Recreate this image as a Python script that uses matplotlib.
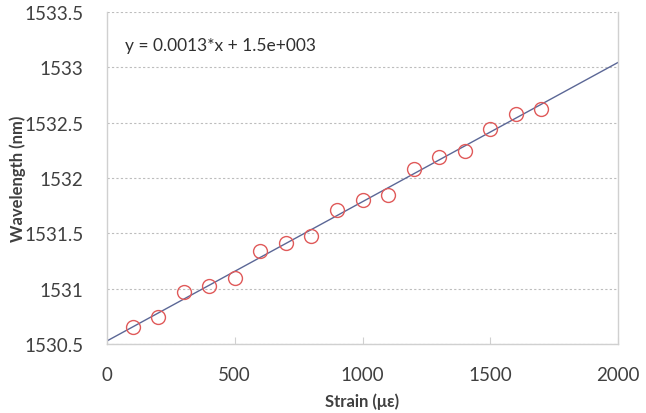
import numpy as np
import matplotlib.pyplot as plt

# Data
strain = np.array([100, 200, 300, 400, 500, 600, 700, 800, 900,
                   1000, 1100, 1200, 1300, 1400, 1500, 1600, 1700])
wavelength = np.array([1530.65, 1530.74, 1530.97, 1531.02, 1531.10, 1531.34,
                       1531.41, 1531.48, 1531.71, 1531.80, 1531.85, 1532.08,
                       1532.19, 1532.24, 1532.44, 1532.58, 1532.62])
x_ticks = [0, 500, 1000, 1500, 2000]
y_ticks = [1530.5, 1531, 1531.5, 1532, 1532.5, 1533, 1533.5]
y_ticklabels = ["1530.5", "1531", "1531.5", "1532", "1532.5", "1533", "1533.5"]

plt.rcParams['font.family'] = ['Lato', 'DejaVu Sans']

fig = plt.figure(figsize=(6.46, 4.14), dpi=100)
ax = fig.add_axes([0.1656, 0.1667, 0.7911, 0.8019])

# linear fit
k, b = np.polyfit(strain, wavelength, 1)
xf = np.array([0, 2000])
ax.plot(xf, k * xf + b, color="#5b6796", lw=1.0, zorder=2)

ax.plot(strain, wavelength, linestyle="none", marker="o", markersize=10,
        markerfacecolor="none", markeredgecolor="#e05a5a", markeredgewidth=1.0,
        zorder=3)

ax.set_xlim(0, 2000)
ax.set_ylim(1530.5, 1533.5)
ax.set_xticks(x_ticks)
ax.set_yticks(y_ticks)
ax.set_yticklabels(y_ticklabels)

ax.grid(axis="y", color="#bdbdbd", linestyle=(0, (2, 2)), lw=0.8)
ax.set_axisbelow(True)

for s in ["left", "bottom", "right"]:
    ax.spines[s].set_color("#d0d0d0")
    ax.spines[s].set_linewidth(1.0)
ax.spines["top"].set_visible(False)

ax.tick_params(axis="x", direction="in", length=5, color="#d0d0d0",
               labelsize=13.5, labelcolor="#404040", pad=16)
ax.tick_params(axis="y", length=0, labelsize=13.5, labelcolor="#404040", pad=17)

ax.set_xlabel("Strain (\u03bc\u03b5)", fontsize=12, fontweight="bold",
              color="#404040")
ax.set_ylabel("Wavelength (nm)", fontsize=12, fontweight="bold",
              color="#404040")
ax.xaxis.set_label_coords(0.5, -0.145)
ax.yaxis.set_label_coords(-0.158, 0.5)

ax.text(0.035, 0.885, "y = 0.0013*x + 1.5e+003", transform=ax.transAxes,
        fontsize=12.5, color="#303030")

fig.savefig("out.png", dpi=100)
